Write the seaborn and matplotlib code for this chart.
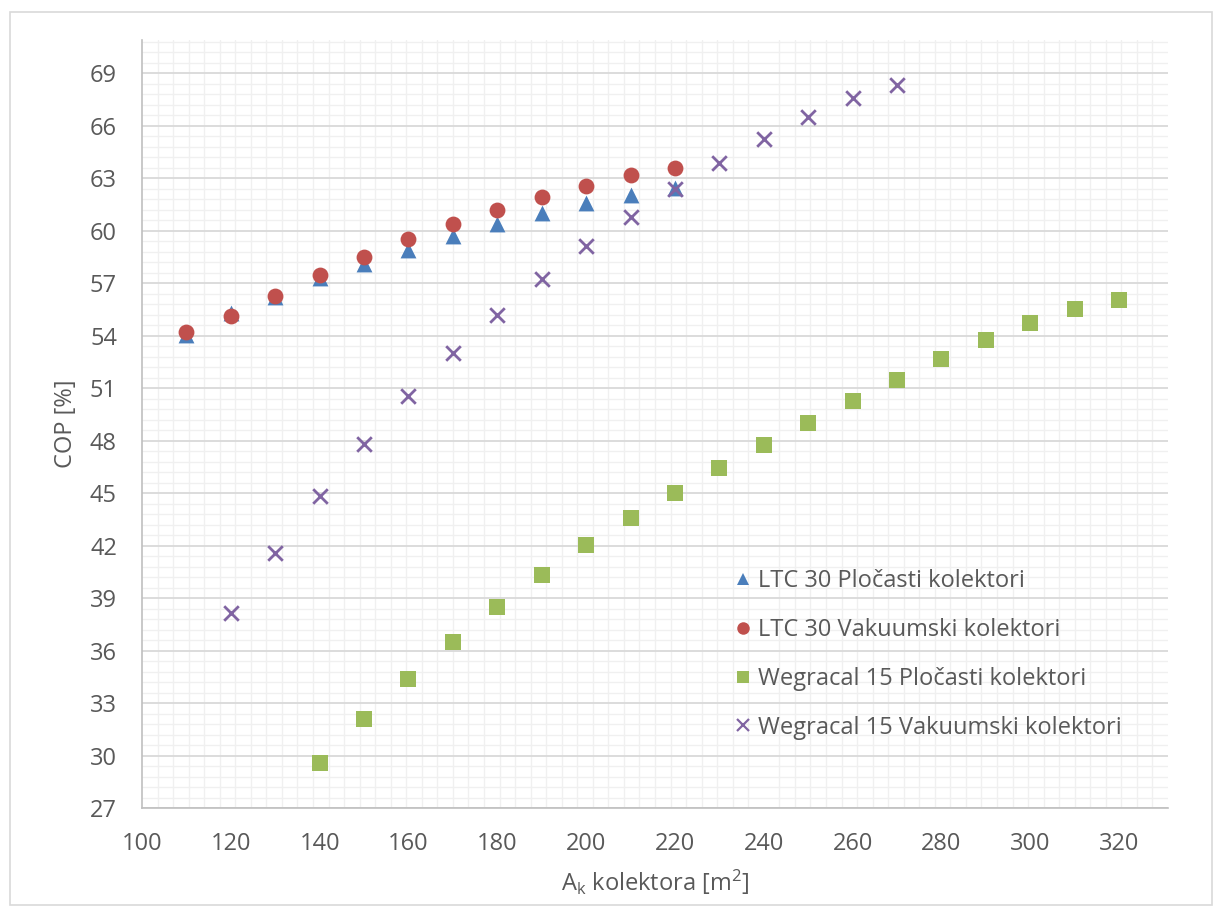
import matplotlib
matplotlib.use('Agg')
import matplotlib.pyplot as plt
import numpy as np
import pandas as pd
import seaborn as sns
from matplotlib.ticker import FixedLocator, MultipleLocator

# data
x_ltc = [110, 120, 130, 140, 150, 160, 170, 180, 190, 200, 210, 220]
ltc_plocasti = [54.05, 55.3, 56.2, 57.3, 58.07, 58.87, 59.69, 60.4, 61.01, 61.6, 62.05, 62.45]
ltc_vakuumski = [54.2, 55.15, 56.25, 57.46, 58.51, 59.5, 60.36, 61.16, 61.9, 62.57, 63.18, 63.57]

x_weg_plocasti = [140, 150, 160, 170, 180, 190, 200, 210, 220, 230, 240, 250,
                  260, 270, 280, 290, 300, 310, 320]
weg_plocasti = [29.55, 32.07, 34.35, 36.48, 38.49, 40.3, 42.03, 43.56, 45.03, 46.43,
                47.75, 49.01, 50.29, 51.48, 52.69, 53.75, 54.7, 55.5, 56.02]

x_weg_vakuumski = [120, 130, 140, 150, 160, 170, 180, 190, 200, 210, 220, 230,
                   240, 250, 260, 270]
weg_vakuumski = [38.15, 41.56, 44.81, 47.82, 50.56, 53.03, 55.2, 57.24, 59.1, 60.77,
                 62.4, 63.88, 65.22, 66.5, 67.57, 68.31]

series_names = ['LTC 30 Pločasti kolektori', 'LTC 30 Vakuumski kolektori',
                'Wegracal 15 Pločasti kolektori', 'Wegracal 15 Vakuumski kolektori']
colors = ['#4a7ebb', '#c0504d', '#9bbb59', '#8064a2']
markers = ['^', 'o', 's', 'x']

series = [
    pd.DataFrame({'A': x_ltc, 'COP': ltc_plocasti}),
    pd.DataFrame({'A': x_ltc, 'COP': ltc_vakuumski}),
    pd.DataFrame({'A': x_weg_plocasti, 'COP': weg_plocasti}),
    pd.DataFrame({'A': x_weg_vakuumski, 'COP': weg_vakuumski}),
]

sns.set_style('white')
plt.rcParams['font.family'] = ['Open Sans', 'DejaVu Sans']
plt.rcParams['mathtext.default'] = 'regular'

fig = plt.figure(figsize=(12.2, 9.09), dpi=100)
ax = fig.add_axes([142 / 1220, 1 - 808 / 909, (1168 - 142) / 1220, (808 - 40) / 909])

for data, name, col, mk in zip(series, series_names, colors, markers):
    if mk == 'x':
        sns.scatterplot(ax=ax, data=data, x='A', y='COP', marker=mk, color=col,
                        s=110, linewidth=2.0, zorder=3, label=name)
    else:
        sns.scatterplot(ax=ax, data=data, x='A', y='COP', marker=mk, color=col,
                        s=130, linewidth=0, zorder=3, label=name)

ax.set_xlim(100, 331)
ax.set_ylim(27, 70.9)
ax.xaxis.set_major_locator(MultipleLocator(20))
ax.yaxis.set_major_locator(MultipleLocator(3))
ax.xaxis.set_minor_locator(FixedLocator(np.arange(100, 331, 3.5)))
ax.yaxis.set_minor_locator(FixedLocator(np.arange(27, 71, 0.6)))

ax.grid(which='major', axis='y', color='#d9d9d9', linewidth=1.3)
ax.grid(which='minor', color='#f0f0f0', linewidth=1.0)
ax.set_axisbelow(True)

for side in ['top', 'right']:
    ax.spines[side].set_visible(False)
for side in ['left', 'bottom']:
    ax.spines[side].set_color('#bfbfbf')
    ax.spines[side].set_linewidth(1.2)

ax.tick_params(axis='both', which='both', length=0, labelsize=17, colors='#595959')
ax.tick_params(axis='x', pad=17)
ax.tick_params(axis='y', pad=18)

ax.set_xlabel('A$_k$ kolektora [m$^2$]', fontsize=17, color='#595959', labelpad=9)
ax.set_ylabel('')
fig.text(66 / 1220, 1 - 424 / 909, 'COP [%]', rotation=90, ha='center', va='center',
         fontsize=17, color='#595959')

ax.legend_.remove()
handles = [plt.Line2D([], [], linestyle='none', marker=m, color=c, markersize=9,
                      markeredgewidth=1.6 if m == 'x' else 0)
           for m, c in zip(markers, colors)]
fig.legend(handles, series_names, loc='upper left',
           bbox_to_anchor=(711 / 1220, 1 - 548 / 909), frameon=False,
           fontsize=17, labelcolor='#595959', handletextpad=0.2,
           handlelength=0.9, labelspacing=1.05)

# chart border
fig.patches.append(plt.Rectangle((10 / 1220, 4 / 909), 1202 / 1220, 893 / 909,
                                 transform=fig.transFigure, fill=False,
                                 edgecolor='#d9d9d9', linewidth=1.2))

fig.savefig('out.png', dpi=100)
